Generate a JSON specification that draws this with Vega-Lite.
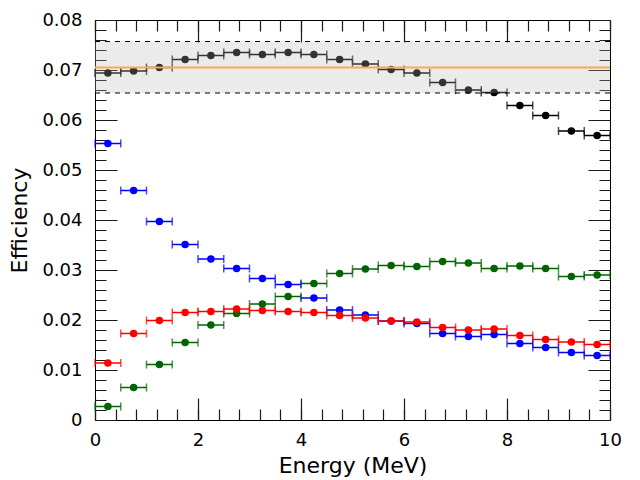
{
  "$schema": "https://vega.github.io/schema/vega-lite/v6.json",
  "width": 515,
  "height": 400,
  "autosize": "none",
  "padding": {"left": 95, "top": 20, "right": 30, "bottom": 60},
  "datasets": {
    "pts": [
      {"s":"k","e":0.25,"lo":0,"hi":0.5,"v":0.0694},{"s":"k","e":0.75,"lo":0.5,"hi":1,"v":0.0698},
      {"s":"k","e":1.25,"lo":1,"hi":1.5,"v":0.0705},{"s":"k","e":1.75,"lo":1.5,"hi":2,"v":0.0721},
      {"s":"k","e":2.25,"lo":2,"hi":2.5,"v":0.0729},{"s":"k","e":2.75,"lo":2.5,"hi":3,"v":0.0735},
      {"s":"k","e":3.25,"lo":3,"hi":3.5,"v":0.0731},{"s":"k","e":3.75,"lo":3.5,"hi":4,"v":0.0735},
      {"s":"k","e":4.25,"lo":4,"hi":4.5,"v":0.0731},{"s":"k","e":4.75,"lo":4.5,"hi":5,"v":0.0721},
      {"s":"k","e":5.25,"lo":5,"hi":5.5,"v":0.0712},{"s":"k","e":5.75,"lo":5.5,"hi":6,"v":0.0701},
      {"s":"k","e":6.25,"lo":6,"hi":6.5,"v":0.0694},{"s":"k","e":6.75,"lo":6.5,"hi":7,"v":0.0675},
      {"s":"k","e":7.25,"lo":7,"hi":7.5,"v":0.0660},{"s":"k","e":7.75,"lo":7.5,"hi":8,"v":0.0655},
      {"s":"k","e":8.25,"lo":8,"hi":8.5,"v":0.0629},{"s":"k","e":8.75,"lo":8.5,"hi":9,"v":0.0609},
      {"s":"k","e":9.25,"lo":9,"hi":9.5,"v":0.0578},{"s":"k","e":9.75,"lo":9.5,"hi":10,"v":0.0569},
      {"s":"b","e":0.25,"lo":0,"hi":0.5,"v":0.0553},{"s":"b","e":0.75,"lo":0.5,"hi":1,"v":0.0459},
      {"s":"b","e":1.25,"lo":1,"hi":1.5,"v":0.0397},{"s":"b","e":1.75,"lo":1.5,"hi":2,"v":0.0351},
      {"s":"b","e":2.25,"lo":2,"hi":2.5,"v":0.0322},{"s":"b","e":2.75,"lo":2.5,"hi":3,"v":0.0303},
      {"s":"b","e":3.25,"lo":3,"hi":3.5,"v":0.0283},{"s":"b","e":3.75,"lo":3.5,"hi":4,"v":0.0271},
      {"s":"b","e":4.25,"lo":4,"hi":4.5,"v":0.0244},{"s":"b","e":4.75,"lo":4.5,"hi":5,"v":0.0220},
      {"s":"b","e":5.25,"lo":5,"hi":5.5,"v":0.0210},{"s":"b","e":5.75,"lo":5.5,"hi":6,"v":0.0198},
      {"s":"b","e":6.25,"lo":6,"hi":6.5,"v":0.0193},{"s":"b","e":6.75,"lo":6.5,"hi":7,"v":0.0173},
      {"s":"b","e":7.25,"lo":7,"hi":7.5,"v":0.0167},{"s":"b","e":7.75,"lo":7.5,"hi":8,"v":0.0171},
      {"s":"b","e":8.25,"lo":8,"hi":8.5,"v":0.0153},{"s":"b","e":8.75,"lo":8.5,"hi":9,"v":0.0145},
      {"s":"b","e":9.25,"lo":9,"hi":9.5,"v":0.0135},{"s":"b","e":9.75,"lo":9.5,"hi":10,"v":0.0129},
      {"s":"g","e":0.25,"lo":0,"hi":0.5,"v":0.0027},{"s":"g","e":0.75,"lo":0.5,"hi":1,"v":0.0065},
      {"s":"g","e":1.25,"lo":1,"hi":1.5,"v":0.0111},{"s":"g","e":1.75,"lo":1.5,"hi":2,"v":0.0155},
      {"s":"g","e":2.25,"lo":2,"hi":2.5,"v":0.0190},{"s":"g","e":2.75,"lo":2.5,"hi":3,"v":0.0213},
      {"s":"g","e":3.25,"lo":3,"hi":3.5,"v":0.0232},{"s":"g","e":3.75,"lo":3.5,"hi":4,"v":0.0247},
      {"s":"g","e":4.25,"lo":4,"hi":4.5,"v":0.0273},{"s":"g","e":4.75,"lo":4.5,"hi":5,"v":0.0293},
      {"s":"g","e":5.25,"lo":5,"hi":5.5,"v":0.0302},{"s":"g","e":5.75,"lo":5.5,"hi":6,"v":0.0309},
      {"s":"g","e":6.25,"lo":6,"hi":6.5,"v":0.0307},{"s":"g","e":6.75,"lo":6.5,"hi":7,"v":0.0317},
      {"s":"g","e":7.25,"lo":7,"hi":7.5,"v":0.0314},{"s":"g","e":7.75,"lo":7.5,"hi":8,"v":0.0303},
      {"s":"g","e":8.25,"lo":8,"hi":8.5,"v":0.0308},{"s":"g","e":8.75,"lo":8.5,"hi":9,"v":0.0303},
      {"s":"g","e":9.25,"lo":9,"hi":9.5,"v":0.0287},{"s":"g","e":9.75,"lo":9.5,"hi":10,"v":0.0290},
      {"s":"r","e":0.25,"lo":0,"hi":0.5,"v":0.0114},{"s":"r","e":0.75,"lo":0.5,"hi":1,"v":0.0173},
      {"s":"r","e":1.25,"lo":1,"hi":1.5,"v":0.0199},{"s":"r","e":1.75,"lo":1.5,"hi":2,"v":0.0215},
      {"s":"r","e":2.25,"lo":2,"hi":2.5,"v":0.0217},{"s":"r","e":2.75,"lo":2.5,"hi":3,"v":0.0222},
      {"s":"r","e":3.25,"lo":3,"hi":3.5,"v":0.0219},{"s":"r","e":3.75,"lo":3.5,"hi":4,"v":0.0217},
      {"s":"r","e":4.25,"lo":4,"hi":4.5,"v":0.0215},{"s":"r","e":4.75,"lo":4.5,"hi":5,"v":0.0209},
      {"s":"r","e":5.25,"lo":5,"hi":5.5,"v":0.0204},{"s":"r","e":5.75,"lo":5.5,"hi":6,"v":0.0198},
      {"s":"r","e":6.25,"lo":6,"hi":6.5,"v":0.0196},{"s":"r","e":6.75,"lo":6.5,"hi":7,"v":0.0185},
      {"s":"r","e":7.25,"lo":7,"hi":7.5,"v":0.0180},{"s":"r","e":7.75,"lo":7.5,"hi":8,"v":0.0182},
      {"s":"r","e":8.25,"lo":8,"hi":8.5,"v":0.0169},{"s":"r","e":8.75,"lo":8.5,"hi":9,"v":0.0161},
      {"s":"r","e":9.25,"lo":9,"hi":9.5,"v":0.0156},{"s":"r","e":9.75,"lo":9.5,"hi":10,"v":0.0151}
    ],
    "band": [{"x0":0,"x1":10,"lo":0.0654,"hi":0.0757}],
    "dash": [{"x0":0,"x1":10,"v":0.0757},{"x0":0,"x1":10,"v":0.0654}],
    "mean": [{"x0":0,"x1":10,"v":0.0705}]
  },
  "layer": [
    {
      "data": {"name": "pts"},
      "mark": {"type": "rule", "strokeWidth": 1.5},
      "encoding": {
        "x": {"field": "lo", "type": "quantitative", "scale": {"domain": [0, 10], "nice": false},
          "axis": {"orient": "bottom", "title": "Energy (MeV)", "titleFontWeight": "normal",
            "values": [0, 2, 4, 6, 8, 10], "ticks": false, "domain": false, "labelFlush": false,
            "labelPadding": 11, "titlePadding": 6,
            "grid": true, "gridColor": "#1a1a1a", "gridWidth": 1.2, "gridDash": [22, 356, 22]}},
        "x2": {"field": "hi"},
        "y": {"field": "v", "type": "quantitative", "scale": {"domain": [0, 0.08], "nice": false},
          "axis": {"orient": "left", "title": "Efficiency", "titleFontWeight": "normal",
            "values": [0, 0.01, 0.02, 0.03, 0.04, 0.05, 0.06, 0.07, 0.08],
            "format": ".2~f", "ticks": false, "domain": false, "labelFlush": false, "labelPadding": 13, "titlePadding": 10,
            "grid": true, "gridColor": "#1a1a1a", "gridWidth": 1.2, "gridDash": [22, 471, 22]}},
        "color": {"field": "s", "type": "nominal", "legend": null,
          "scale": {"domain": ["k", "b", "g", "r"], "range": ["#000000", "#0000ff", "#006400", "#ff0000"]}}
      }
    },
    {
      "data": {"name": "pts"},
      "mark": {"type": "tick", "orient": "vertical", "size": 8, "thickness": 1.5},
      "encoding": {
        "x": {"field": "lo", "type": "quantitative",
          "axis": {"orient": "bottom", "title": null, "labels": false, "domain": false, "ticks": false,
            "grid": true, "gridColor": "#1a1a1a", "gridWidth": 1.2, "gridDash": [11, 378, 11],
            "values": [0, 0.4, 0.8, 1.2, 1.6, 2, 2.4, 2.8, 3.2, 3.6, 4, 4.4, 4.8, 5.2, 5.6, 6, 6.4, 6.8, 7.2, 7.6, 8, 8.4, 8.8, 9.2, 9.6, 10]}},
        "y": {"field": "v", "type": "quantitative",
          "axis": {"orient": "left", "title": null, "labels": false, "domain": false, "ticks": false,
            "grid": true, "gridColor": "#1a1a1a", "gridWidth": 1.2, "gridDash": [11, 493, 11],
            "values": [0, 0.002, 0.004, 0.006, 0.008, 0.01, 0.012, 0.014, 0.016, 0.018, 0.02, 0.022, 0.024, 0.026, 0.028, 0.03, 0.032, 0.034, 0.036, 0.038, 0.04, 0.042, 0.044, 0.046, 0.048, 0.05, 0.052, 0.054, 0.056, 0.058, 0.06, 0.062, 0.064, 0.066, 0.068, 0.07, 0.072, 0.074, 0.076, 0.078, 0.08]}},
        "color": {"field": "s", "type": "nominal", "legend": null}
      }
    },
    {
      "data": {"name": "pts"},
      "mark": {"type": "tick", "orient": "vertical", "size": 8, "thickness": 1.5},
      "encoding": {
        "x": {"field": "hi", "type": "quantitative", "axis": null},
        "y": {"field": "v", "type": "quantitative", "axis": null},
        "color": {"field": "s", "type": "nominal", "legend": null}
      }
    },
    {
      "data": {"name": "pts"},
      "mark": {"type": "circle", "size": 56, "opacity": 1},
      "encoding": {
        "x": {"field": "e", "type": "quantitative", "axis": null},
        "y": {"field": "v", "type": "quantitative", "axis": null},
        "color": {"field": "s", "type": "nominal", "legend": null}
      }
    },
    {
      "data": {"name": "band"},
      "mark": {"type": "rect", "color": "#b7b7b7", "opacity": 0.28},
      "encoding": {
        "x": {"field": "x0", "type": "quantitative", "axis": null},
        "x2": {"field": "x1"},
        "y": {"field": "lo", "type": "quantitative", "axis": null},
        "y2": {"field": "hi"}
      }
    },
    {
      "data": {"name": "dash"},
      "mark": {"type": "rule", "color": "#000000", "strokeDash": [5, 5], "strokeWidth": 1},
      "encoding": {
        "x": {"field": "x0", "type": "quantitative", "axis": null},
        "x2": {"field": "x1"},
        "y": {"field": "v", "type": "quantitative", "axis": null}
      }
    },
    {
      "data": {"name": "mean"},
      "mark": {"type": "rule", "color": "#f0b050", "strokeWidth": 2},
      "encoding": {
        "x": {"field": "x0", "type": "quantitative", "axis": null},
        "x2": {"field": "x1"},
        "y": {"field": "v", "type": "quantitative", "axis": null}
      }
    }
  ],
  "resolve": {"axis": {"x": "independent", "y": "independent"}},
  "config": {
    "font": "DejaVu Sans",
    "view": {"stroke": "#000000", "strokeWidth": 1},
    "axis": {
      "labelFontSize": 18,
      "titleFontSize": 22
    }
  }
}
